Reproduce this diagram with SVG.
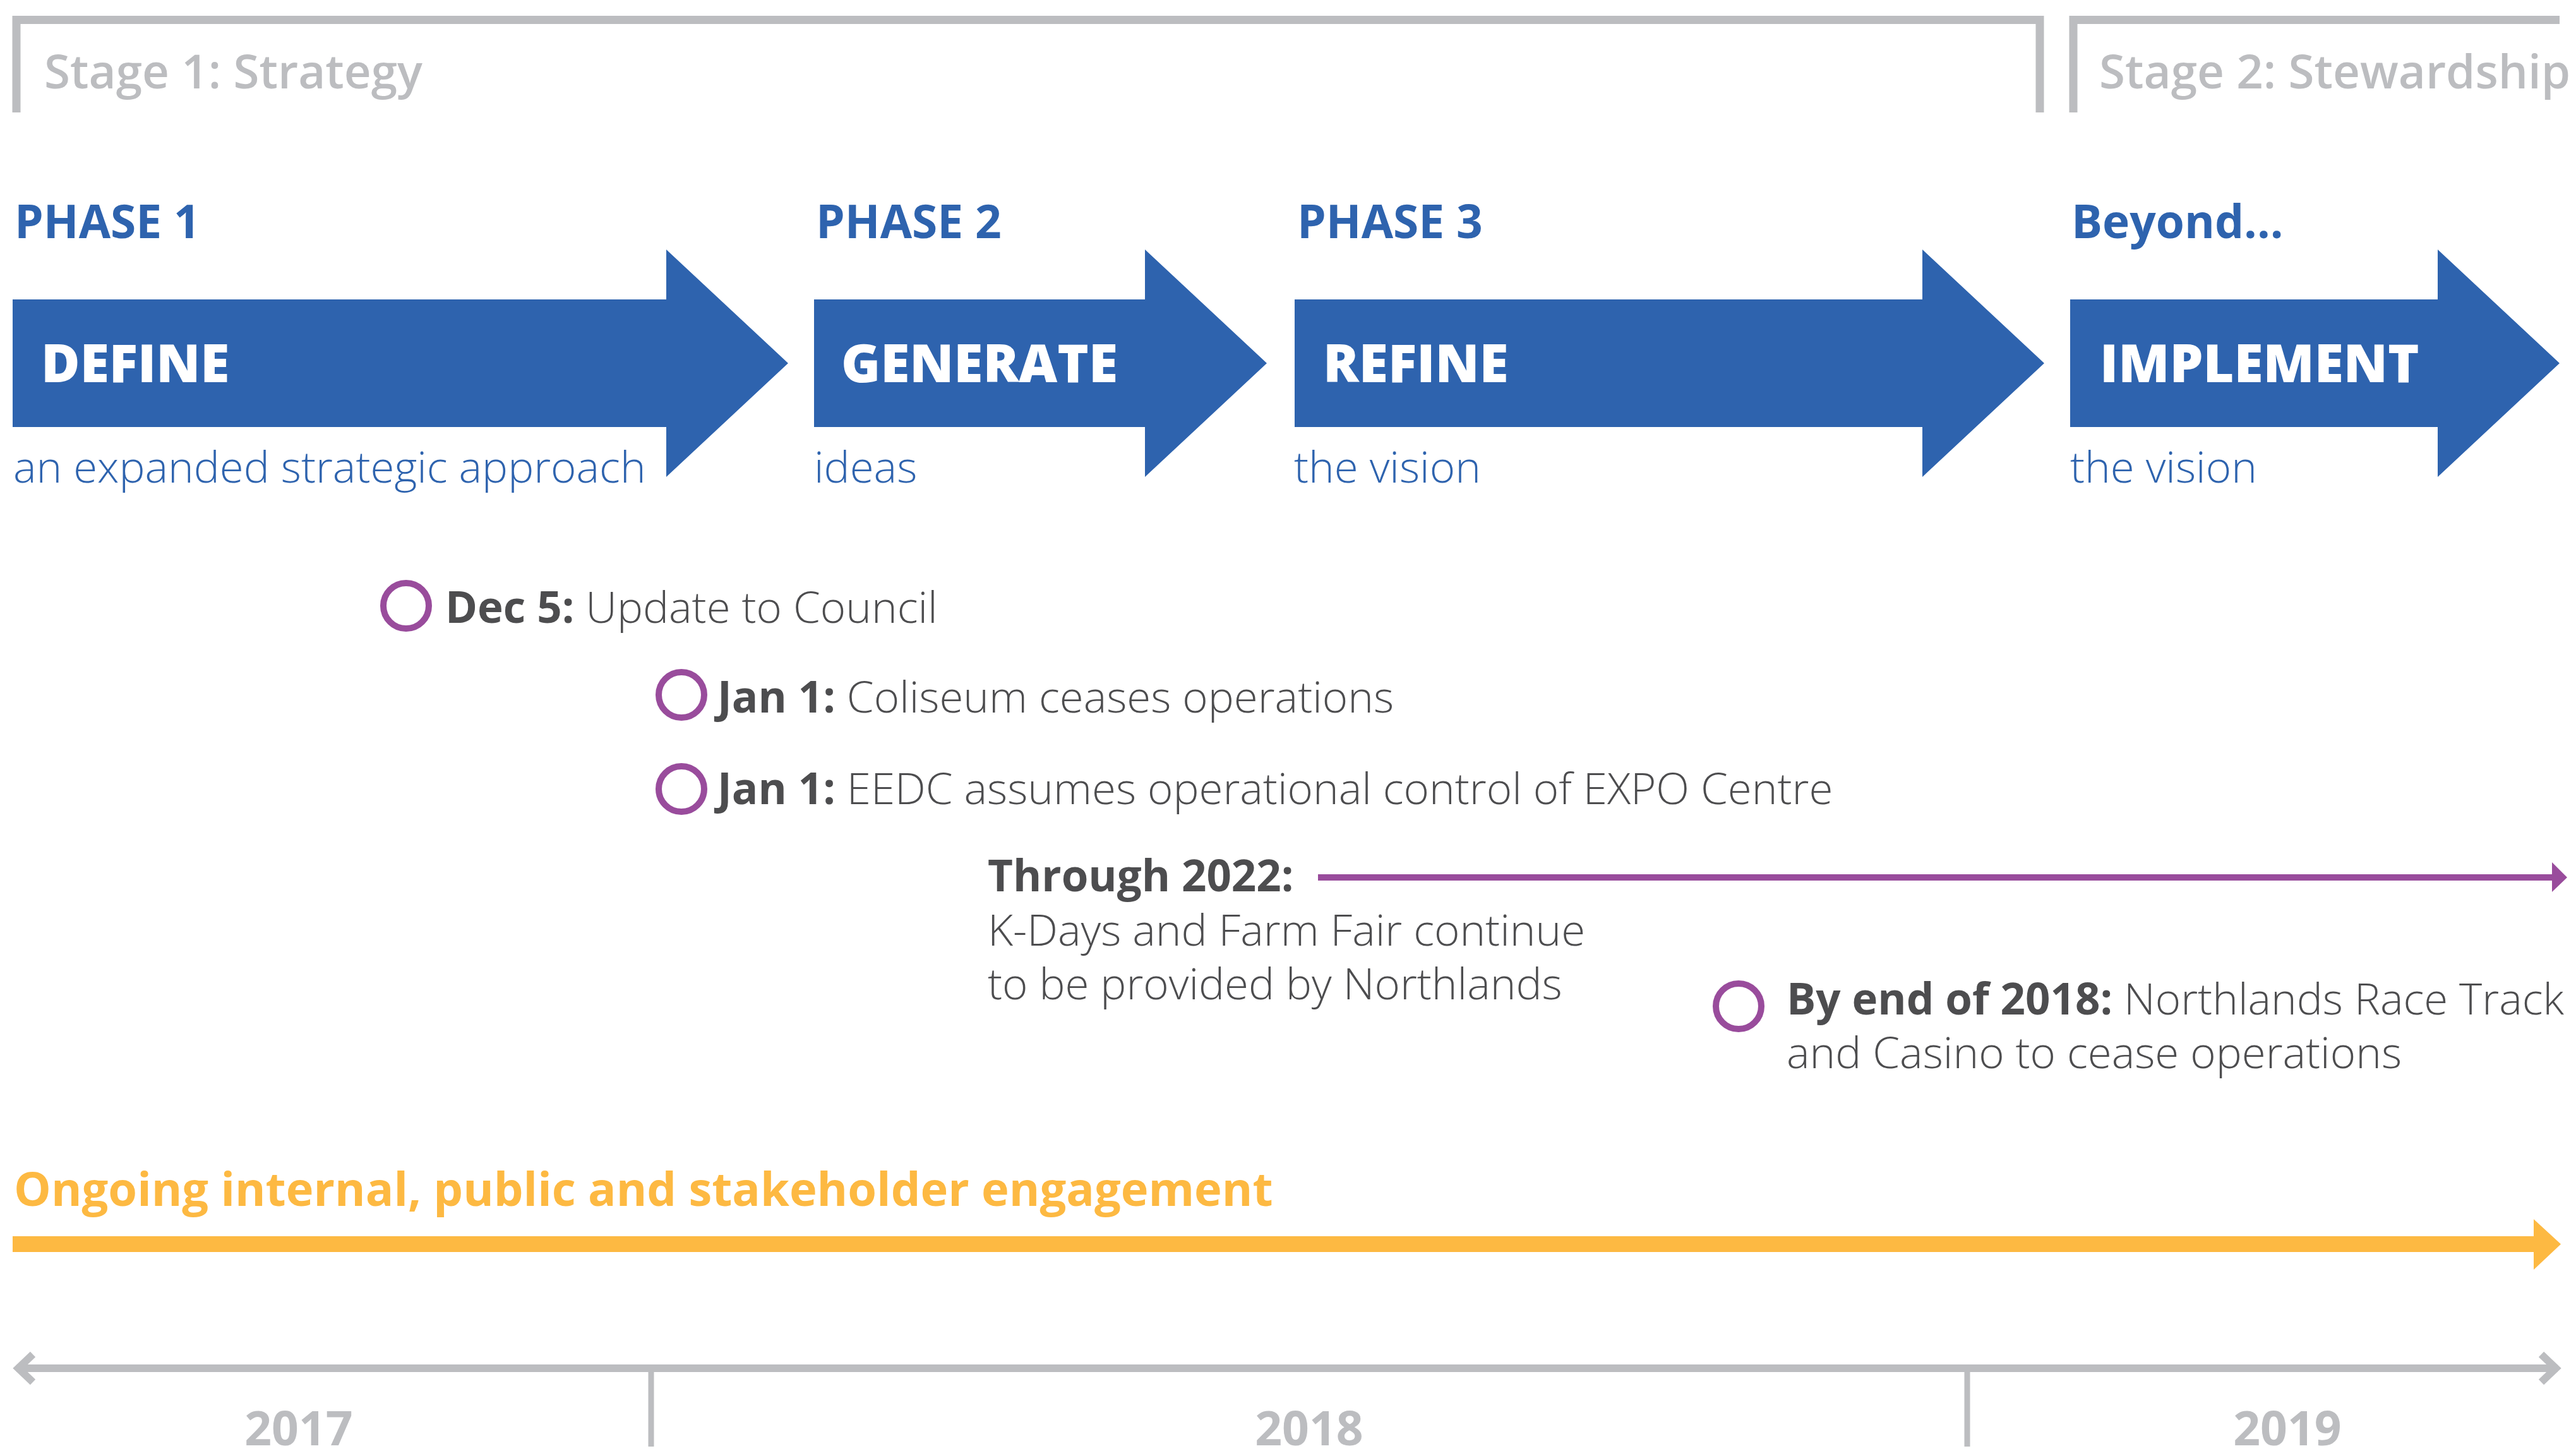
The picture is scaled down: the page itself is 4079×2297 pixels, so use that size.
<svg xmlns="http://www.w3.org/2000/svg" width="4079" height="2297" viewBox="0 0 4079 2297">
<style>
text{font-family:"Open Sans","Noto Sans","Liberation Sans",sans-serif}
.stage{font-size:74.5px;font-weight:600;fill:#bcbdc0}
.phase{font-size:73px;font-weight:700;fill:#2e63ae}
.big{font-size:84px;font-weight:800;fill:#ffffff}
.sub{font-size:69px;font-weight:300;fill:#2e63ae}
.ev{font-size:69px;font-weight:300;fill:#4d4d4f}
.ev tspan.b{font-weight:700}
.year{font-size:75px;font-weight:700;fill:#bcbdc0;text-anchor:middle}
.eng{font-size:74px;font-weight:700;fill:#fdb942}
.arrow{fill:#2e63ae}
.ring{fill:none;stroke:#994c9c;stroke-width:10}
.bracket{fill:none;stroke:#bcbdc0;stroke-width:13}
.chev{fill:none;stroke:#bcbdc0;stroke-width:12;stroke-linejoin:miter}
</style>
<rect width="4079" height="2297" fill="#ffffff"/>
<g id="stage1">
<path class="bracket" d="M26 178 V31.5 H3230 V178"/>
<text class="stage" x="70" y="140">Stage 1: Strategy</text>
</g>
<g id="stage2">
<path class="bracket" d="M3283 178 V31.5 H4053"/>
<text class="stage" x="3324" y="140">Stage 2: Stewardship</text>
</g>
<g id="phase1">
<text class="phase" x="23" y="377">PHASE 1</text>
<polygon class="arrow" points="20,474 1055,474 1055,395 1248,575 1055,755 1055,676 20,676"/>
<text class="big" x="65" y="605">DEFINE</text>
<text class="sub" x="21" y="764">an expanded strategic approach</text>
</g>
<g id="phase2">
<text class="phase" x="1292" y="377">PHASE 2</text>
<polygon class="arrow" points="1289,474 1813,474 1813,395 2006,575 1813,755 1813,676 1289,676"/>
<text class="big" x="1332" y="605">GENERATE</text>
<text class="sub" x="1289" y="764">ideas</text>
</g>
<g id="phase3">
<text class="phase" x="2054" y="377">PHASE 3</text>
<polygon class="arrow" points="2050,474 3044,474 3044,395 3237,575 3044,755 3044,676 2050,676"/>
<text class="big" x="2095" y="605">REFINE</text>
<text class="sub" x="2049" y="764">the vision</text>
</g>
<g id="beyond">
<text class="phase" x="3280" y="377">Beyond...</text>
<polygon class="arrow" points="3278,474 3860,474 3860,395 4053,575 3860,755 3860,676 3278,676"/>
<text class="big" x="3325" y="605">IMPLEMENT</text>
<text class="sub" x="3278" y="764">the vision</text>
</g>
<g id="dec5">
<circle class="ring" cx="643" cy="959" r="36"/>
<text class="ev" x="705" y="986"><tspan class="b">Dec 5:</tspan> Update to Council</text>
</g>
<g id="jan1a">
<circle class="ring" cx="1079" cy="1100" r="36"/>
<text class="ev" x="1136" y="1128"><tspan class="b">Jan 1:</tspan> Coliseum ceases operations</text>
</g>
<g id="jan1b">
<circle class="ring" cx="1079" cy="1249" r="36"/>
<text class="ev" x="1136" y="1273"><tspan class="b">Jan 1:</tspan> EEDC assumes operational control of EXPO Centre</text>
</g>
<g id="through2022">
<text class="ev" x="1564" y="1411"><tspan class="b">Through 2022:</tspan></text>
<text class="ev" x="1564" y="1497">K-Days and Farm Fair continue</text>
<text class="ev" x="1564" y="1582">to be provided by Northlands</text>
</g>
<g id="end2018">
<circle class="ring" cx="2753" cy="1593" r="36"/>
<text class="ev" x="2829" y="1606"><tspan class="b">By end of 2018:</tspan> Northlands Race Track</text>
<text class="ev" x="2829" y="1691">and Casino to cease operations</text>
</g>
<g id="engagement">
<text class="eng" x="22" y="1909">Ongoing internal, public and stakeholder engagement</text>
</g>
<g id="years">
<text class="year" x="473" y="2288">2017</text>
<text class="year" x="2073" y="2288">2018</text>
<text class="year" x="3622" y="2288">2019</text>
</g>
<g id="connectors">
<line x1="2087" y1="1389" x2="4043" y2="1389" stroke="#994c9c" stroke-width="10"/>
<polygon points="4041,1365 4065,1389 4041,1412" fill="#994c9c"/>
<rect x="20" y="1957" width="3994" height="25" fill="#fdb942"/>
<polygon points="4012,1930 4055,1969.5 4012,2010" fill="#fdb942"/>
<line x1="26" y1="2166" x2="4050" y2="2166" stroke="#bcbdc0" stroke-width="12"/>
<polyline class="chev" points="52,2144 29,2166 52,2188"/>
<polyline class="chev" points="4024,2144 4047,2166 4024,2188"/>
<line x1="1031" y1="2166" x2="1031" y2="2290" stroke="#bcbdc0" stroke-width="9"/>
<line x1="3115" y1="2166" x2="3115" y2="2290" stroke="#bcbdc0" stroke-width="9"/>
</g>
</svg>
